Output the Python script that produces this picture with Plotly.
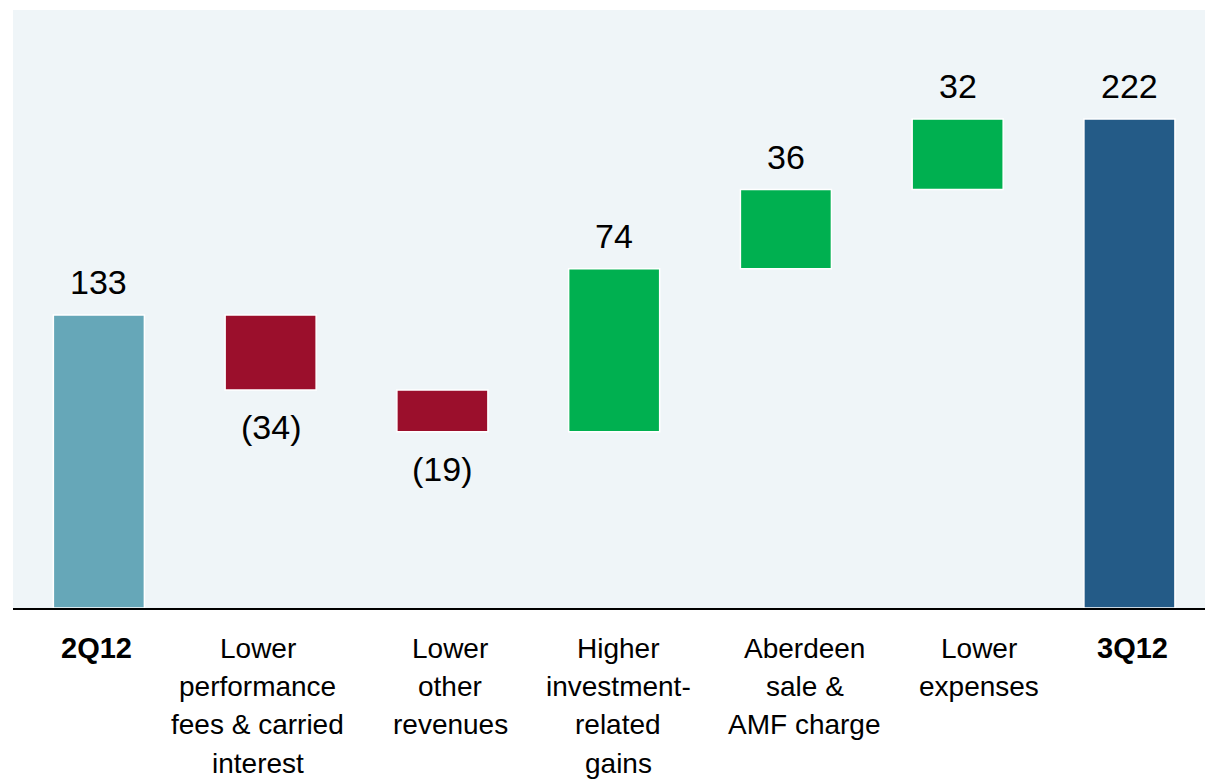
import plotly.graph_objects as go

categories = ["2Q12", "Lower performance fees & carried interest", "Lower other revenues",
              "Higher investment-related gains", "Aberdeen sale & AMF charge",
              "Lower expenses", "3Q12"]
tick_labels = ["<b>2Q12</b>", "Lower<br>performance<br>fees & carried<br>interest",
               "Lower<br>other<br>revenues", "Higher<br>investment-<br>related<br>gains",
               "Aberdeen<br>sale &<br>AMF charge", "Lower<br>expenses", "<b>3Q12</b>"]
measures = ["absolute", "relative", "relative", "relative", "relative", "relative", "total"]
values = [133, -34, -19, 74, 36, 32, 222]
value_labels = ["133", "(34)", "(19)", "74", "36", "32", "222"]
bar_colors = ["#66a7b8", "#9b0f2c", "#9b0f2c", "#00b050", "#00b050", "#00b050", "#245b87"]

# small horizontal nudges of the category labels (pixels), as in the original slide
label_nudge = [-2, -13, 8, 4, 19, 21, 3]

# compute bases for the floating bars
bases, heights = [], []
running = 0
for m, v in zip(measures, values):
    if m == "relative":
        bases.append(running)
        heights.append(v)
        running += v
    else:
        bases.append(0)
        heights.append(v)
        running = v

x = list(range(len(categories)))

fig = go.Figure(go.Bar(
    x=x, y=heights, base=bases,
    marker=dict(color=bar_colors, line=dict(color="white", width=1.5)),
    width=0.53,
    hoverinfo="skip",
))

annotations = []
# value labels
for i, (b, h, lab) in enumerate(zip(bases, heights, value_labels)):
    end = b + h
    annotations.append(dict(
        x=i, y=end, xref="x", yref="y", text=lab, showarrow=False,
        yanchor="middle", yshift=33 if h > 0 else -37,
        font=dict(family="Liberation Sans", size=34, color="black"),
    ))
# category labels, one line each
for i, lab in enumerate(tick_labels):
    bold = lab.startswith("<b>")
    for k, line in enumerate(lab.split("<br>")):
        annotations.append(dict(
            x=i, y=0, xref="x", yref="paper", text=line, showarrow=False,
            yanchor="middle", yshift=-(40 + 38.4 * k), xshift=label_nudge[i],
            font=dict(family="Liberation Sans", size=29 if bold else 28, color="black"),
        ))

fig.update_layout(
    width=1205, height=780, autosize=False,
    margin=dict(l=13, r=0, t=10, b=172),
    paper_bgcolor="white", plot_bgcolor="#eff5f8",
    showlegend=False,
    xaxis=dict(range=[-0.5, 6.44], showgrid=False, zeroline=False,
               showline=True, linecolor="black", linewidth=2, ticks="",
               showticklabels=False, fixedrange=True),
    yaxis=dict(range=[0, 271.5], showgrid=False, zeroline=False, showticklabels=False,
               showline=False, fixedrange=True),
    annotations=annotations,
)

fig.write_html("out.html", config=dict(displayModeBar=False),
               post_script="document.body.style.margin='0px';document.body.style.overflow='hidden';")
